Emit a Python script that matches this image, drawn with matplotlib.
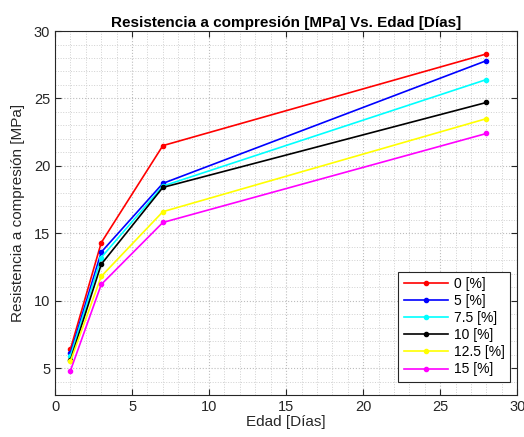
import matplotlib
matplotlib.use("Agg")
import matplotlib.pyplot as plt
from matplotlib.ticker import MultipleLocator

plt.rcParams['font.family'] = ['Liberation Sans', 'DejaVu Sans']

edad = [1, 3, 7, 28]
labels = ['0 [%]', '5 [%]', '7.5 [%]', '10 [%]', '12.5 [%]', '15 [%]']
colors = ['#ff0000', '#0000ff', '#00ffff', '#000000', '#ffff00', '#ff00ff']
s0 = [6.4, 14.3, 21.5, 28.3]
s5 = [6.1, 13.6, 18.7, 27.8]
s75 = [5.9, 13.2, 18.5, 26.4]
s10 = [5.6, 12.7, 18.4, 24.7]
s125 = [5.5, 11.8, 16.6, 23.5]
s15 = [4.8, 11.2, 15.8, 22.4]
series = [s0, s5, s75, s10, s125, s15]

fig = plt.figure(figsize=(5.24, 4.37), dpi=100)
ax = fig.add_axes([0.105, 0.096, 0.882, 0.833])

for vals, lab, c in zip(series, labels, colors):
    ax.plot(edad, vals, '-', color=c, marker='.', markersize=6, linewidth=1.2, label=lab)

ax.set_xlim(0, 30)
ax.set_ylim(3, 30)
ax.xaxis.set_major_locator(MultipleLocator(5))
ax.yaxis.set_major_locator(MultipleLocator(5))
ax.xaxis.set_minor_locator(MultipleLocator(1))
ax.yaxis.set_minor_locator(MultipleLocator(1))
ax.grid(which='major', color='#bdbdbd', linestyle=':', linewidth=0.8)
ax.grid(which='minor', color='#d0d0d0', linestyle=':', linewidth=0.7)
ax.tick_params(which='both', direction='in', colors='#262626', labelsize=10.5, top=True, right=True)
ax.tick_params(which='minor', length=0)
ax.tick_params(which='major', length=4)
for sp in ax.spines.values():
    sp.set_color('#262626')
    sp.set_linewidth(0.8)

ax.set_xlabel('Edad [Días]', fontsize=11, color='#262626', labelpad=1)
ax.set_ylabel('Resistencia a compresión [MPa]', fontsize=11, color='#262626', labelpad=6)
ax.set_title('Resistencia a compresión [MPa] Vs. Edad [Días]', fontsize=11, fontweight='bold', pad=3)

leg = ax.legend(loc='lower right', bbox_to_anchor=(0.985, 0.036), fontsize=10, fancybox=False,
                framealpha=1, edgecolor='#262626', handlelength=3.2, labelspacing=0.22,
                borderpad=0.4, handletextpad=0.4, borderaxespad=0)
leg.get_frame().set_linewidth(0.8)

fig.savefig('out.png', dpi=100)
